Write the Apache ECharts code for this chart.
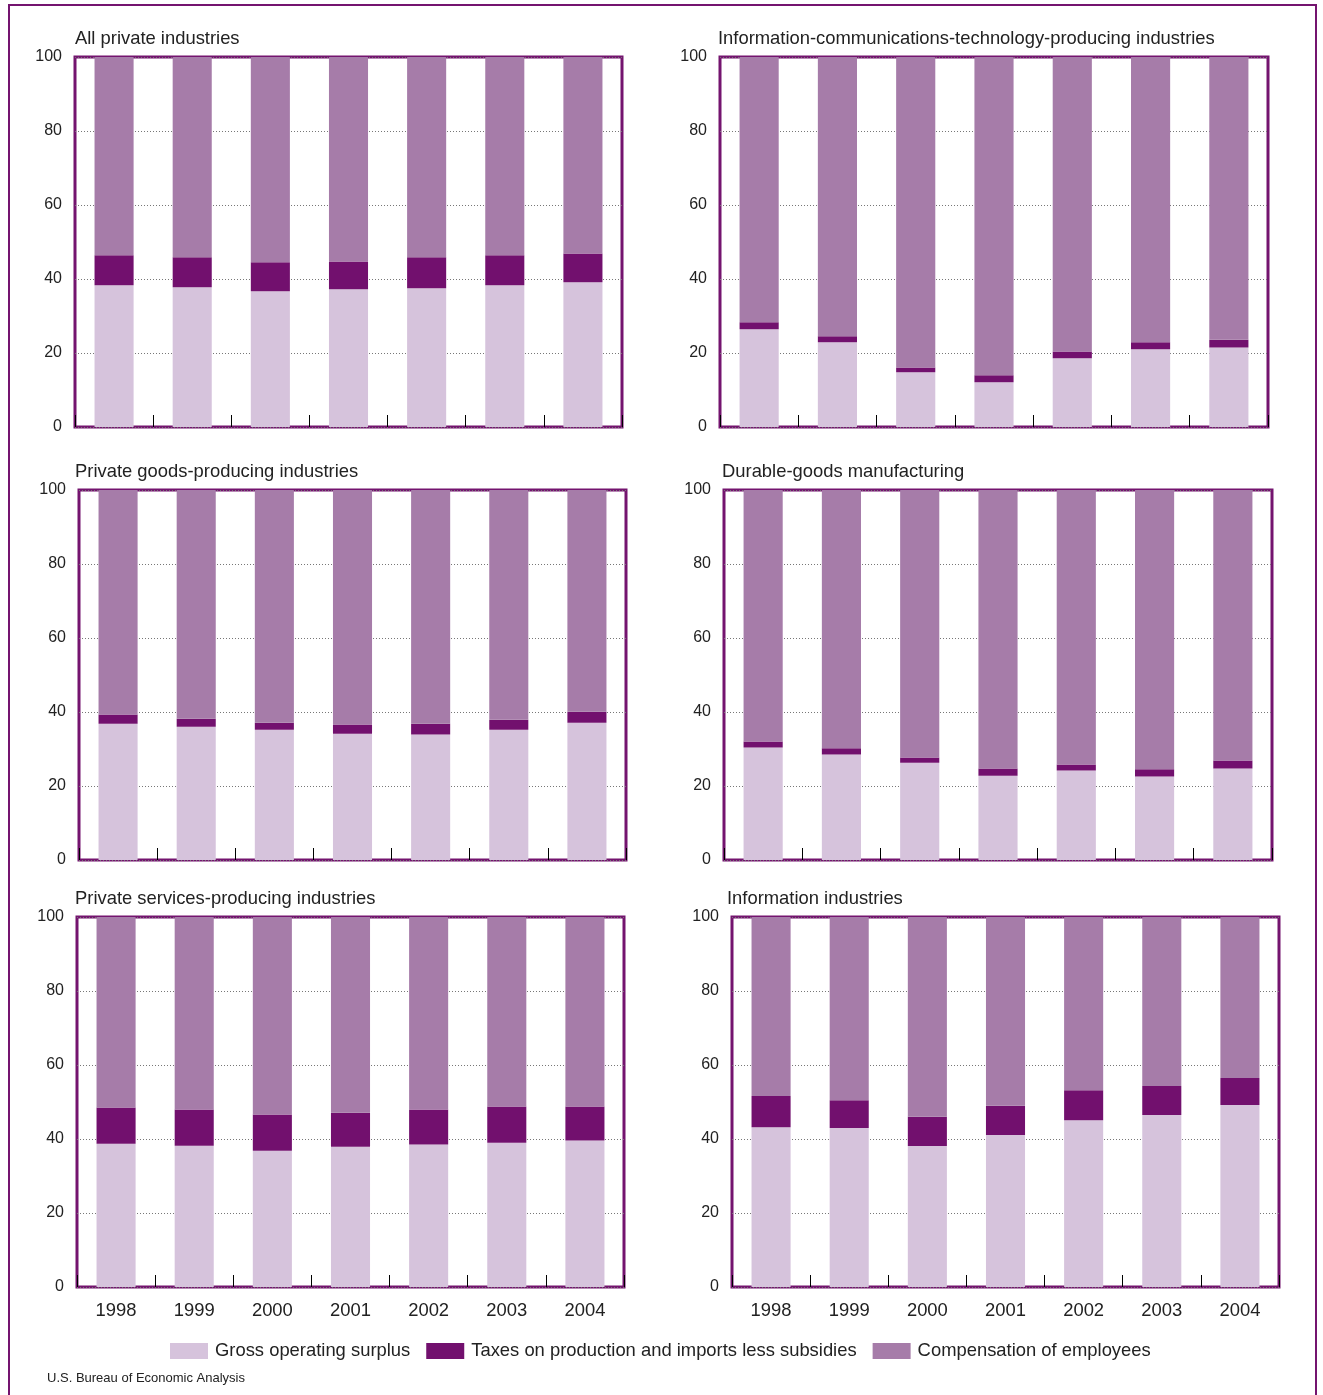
<!DOCTYPE html>
<html>
<head>
<meta charset="utf-8">
<script src="https://cdn.jsdelivr.net/npm/echarts@6/dist/echarts.min.js"></script>
<style>html,body{margin:0;padding:0;background:#fff}#c{width:1323px;height:1395px}</style>
</head>
<body>
<div id="c"></div>
<script>
// ---- data ----
var years = ['1998','1999','2000','2001','2002','2003','2004'];
var panelTitles = ['All private industries','Information-communications-technology-producing industries','Private goods-producing industries','Durable-goods manufacturing','Private services-producing industries','Information industries'];
var seriesNames = ['Gross operating surplus','Taxes on production and imports less subsidies','Compensation of employees'];
var yTicks = [0,20,40,60,80,100];

// Gross operating surplus (percent)
var gosAll      = [38.3, 37.8, 36.7, 37.2, 37.5, 38.3, 39.1];
var gosICT      = [26.4, 22.9, 14.8, 12.1, 18.6, 21.0, 21.5];
var gosGoods    = [36.8, 36.0, 35.2, 34.1, 33.9, 35.2, 37.1];
var gosDurable  = [30.4, 28.5, 26.3, 22.8, 24.2, 22.6, 24.7];
var gosServices = [38.7, 38.2, 36.8, 37.9, 38.5, 39.0, 39.6];
var gosInfo     = [43.2, 43.0, 38.1, 41.1, 45.1, 46.5, 49.2];

// Taxes on production and imports less subsidies (percent)
var taxAll      = [8.1, 8.1, 7.8, 7.5, 8.4, 8.1, 7.8];
var taxICT      = [1.9, 1.6, 1.3, 1.9, 1.8, 1.9, 2.1];
var taxGoods    = [2.5, 2.2, 1.9, 2.5, 2.9, 2.7, 3.0];
var taxDurable  = [1.6, 1.7, 1.4, 1.9, 1.6, 1.9, 2.2];
var taxServices = [9.8, 9.8, 9.8, 9.2, 9.5, 9.8, 9.2];
var taxInfo     = [8.4, 7.5, 7.9, 7.9, 8.1, 7.8, 7.3];

// Compensation of employees (percent)
var compAll      = [53.6, 54.1, 55.5, 55.3, 54.1, 53.6, 53.1];
var compICT      = [71.7, 75.5, 83.9, 86.0, 79.6, 77.1, 76.4];
var compGoods    = [60.7, 61.8, 62.9, 63.4, 63.2, 62.1, 59.9];
var compDurable  = [68.0, 69.8, 72.3, 75.3, 74.2, 75.5, 73.1];
var compServices = [51.5, 52.0, 53.4, 52.9, 52.0, 51.2, 51.2];
var compInfo     = [48.4, 49.5, 54.0, 51.0, 46.8, 45.7, 43.5];

var gosData  = [gosAll, gosICT, gosGoods, gosDurable, gosServices, gosInfo];
var taxData  = [taxAll, taxICT, taxGoods, taxDurable, taxServices, taxInfo];
var compData = [compAll, compICT, compGoods, compDurable, compServices, compInfo];

// ---- layout / style ----
var colors = ['#d6c3dc', '#72106e', '#a67ca9'];
var frameColor = '#74146f';
var font = 'Liberation Sans, Arial, Helvetica, sans-serif';
var grids = [
  {left: 75,  top: 57,  width: 547, height: 370},
  {left: 720, top: 57,  width: 548, height: 370},
  {left: 79,  top: 490, width: 547, height: 370},
  {left: 724, top: 490, width: 548, height: 370},
  {left: 77,  top: 917, width: 547, height: 370},
  {left: 732, top: 917, width: 547, height: 370}
];
var titlePos = [[75,30],[718,30],[75,463],[722,463],[75,890],[727,890]];

var option = {
  animation: false,
  backgroundColor: '#fff',
  textStyle: {fontFamily: font},
  title: panelTitles.map(function(t, i){
    return {text: t, left: titlePos[i][0], top: titlePos[i][1],
      textStyle: {fontFamily: font, fontSize: 18.4, fontWeight: 'normal', color: '#222'}, padding: 0};
  }),
  legend: {
    left: 165, top: 1337, itemWidth: 38, itemHeight: 16, itemGap: 16,
    icon: 'rect',
    data: seriesNames,
    textStyle: {fontFamily: font, fontSize: 18.4, color: '#222', padding: [0,0,0,2]}
  },
  grid: grids.map(function(g){
    return {left: g.left, top: g.top, width: g.width, height: g.height,
      show: true, borderColor: frameColor, borderWidth: 3, backgroundColor: 'transparent'};
  }),
  xAxis: grids.map(function(g, i){
    return {
      type: 'category', gridIndex: i, data: years,
      axisLine: {show: false},
      axisTick: {show: true, inside: true, length: 12, lineStyle: {color: '#000', width: 1}},
      axisLabel: {show: i >= 4, fontFamily: font, fontSize: 18.4, color: '#222', margin: 15},
      splitLine: {show: false}
    };
  }),
  yAxis: grids.map(function(g, i){
    return {
      type: 'value', gridIndex: i, min: yTicks[0], max: yTicks[yTicks.length-1], interval: 20,
      axisLine: {show: false}, axisTick: {show: false},
      axisLabel: {fontFamily: font, fontSize: 16, color: '#222', margin: 13, padding: [4,0,0,0]},
      splitLine: {show: true, lineStyle: {color: '#777', type: [1, 2], width: 1}}
    };
  }),
  series: [],
  graphic: [
    {type: 'rect', shape: {x: 9, y: 5, width: 1307, height: 1420},
     style: {fill: 'none', stroke: frameColor, lineWidth: 2}, silent: true, z: 100},
    {type: 'text', left: 47, top: 1372,
     style: {text: 'U.S. Bureau of Economic Analysis', fontFamily: 'Liberation Sans Narrow, Liberation Sans, Arial, sans-serif', fontSize: 13, fill: '#222'}}
  ]
};

for (var i = 0; i < grids.length; i++) {
  var sets = [gosData[i], taxData[i], compData[i]];
  for (var k = 0; k < 3; k++) {
    option.series.push({
      type: 'bar', name: seriesNames[k], xAxisIndex: i, yAxisIndex: i,
      stack: 'p' + i, data: sets[k], barWidth: '50%',
      itemStyle: {color: colors[k]}, z: 1
    });
  }
}

var chart = echarts.init(document.getElementById('c'), null, {renderer: 'canvas'});
chart.setOption(option);
</script>
</body>
</html>
